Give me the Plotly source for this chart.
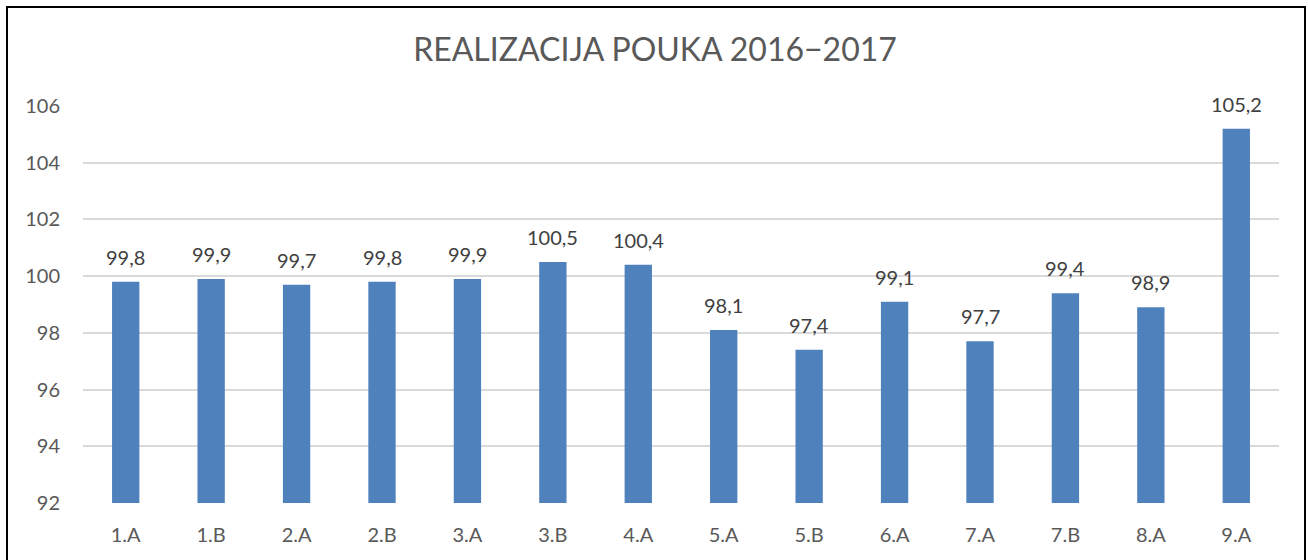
import plotly.graph_objects as go

categories = ["1.A", "1.B", "2.A", "2.B", "3.A", "3.B", "4.A", "5.A", "5.B", "6.A", "7.A", "7.B", "8.A", "9.A"]
values = [99.8, 99.9, 99.7, 99.8, 99.9, 100.5, 100.4, 98.1, 97.4, 99.1, 97.7, 99.4, 98.9, 105.2]
labels = [f"{v:.1f}".replace(".", ",") for v in values]
y_ticks = [92, 94, 96, 98, 100, 102, 104, 106]
title = "REALIZACIJA POUKA 2016−2017"

W, H = 1308, 560
L, R, T, B = 83, 29, 106, 57
pw, ph = W - L - R, H - T - B

def px(x):
    return (x - L) / pw

def py(y):
    return (H - B - y) / ph

font = "Lato, 'Open Sans', sans-serif"

fig = go.Figure(go.Bar(
    x=categories, y=values,
    marker=dict(color="#4f81bd", line=dict(width=0)),
    hoverinfo="x+y",
))

annotations = [
    dict(x=c, y=v, text=t, xref="x", yref="y", showarrow=False,
         yanchor="bottom", yshift=11,
         font=dict(size=20, color="#404040", family=font))
    for c, v, t in zip(categories, values, labels)
]

fig.update_layout(
    width=W, height=H,
    margin=dict(l=L, r=R, t=T, b=B),
    paper_bgcolor="white", plot_bgcolor="white",
    bargap=0.68,
    showlegend=False,
    title=dict(text=title, x=655 / W, xref="container", xanchor="center",
               y=1 - 50 / H, yref="container", yanchor="middle",
               font=dict(size=32, color="#595959", family=font)),
    xaxis=dict(showgrid=False, showline=False, ticks="",
               tickfont=dict(size=20, color="#595959", family=font)),
    yaxis=dict(range=[92, 106], tickvals=y_ticks, showgrid=True, gridcolor="#d9d9d9",
               gridwidth=1.5, zeroline=False, showline=False, ticks="", ticklen=0,
               tickfont=dict(size=20, color="#595959", family=font)),
    annotations=annotations,
    shapes=[dict(type="rect", xref="paper", yref="paper",
                 x0=px(7), x1=px(1305), y0=py(575), y1=py(7),
                 line=dict(color="black", width=2), layer="above")],
)
fig.update_yaxes(ticklabelstandoff=22)
fig.update_xaxes(ticklabelstandoff=18)

fig.write_html("out.html", config={"displayModeBar": False},
               post_script="document.body.style.margin='0';")
